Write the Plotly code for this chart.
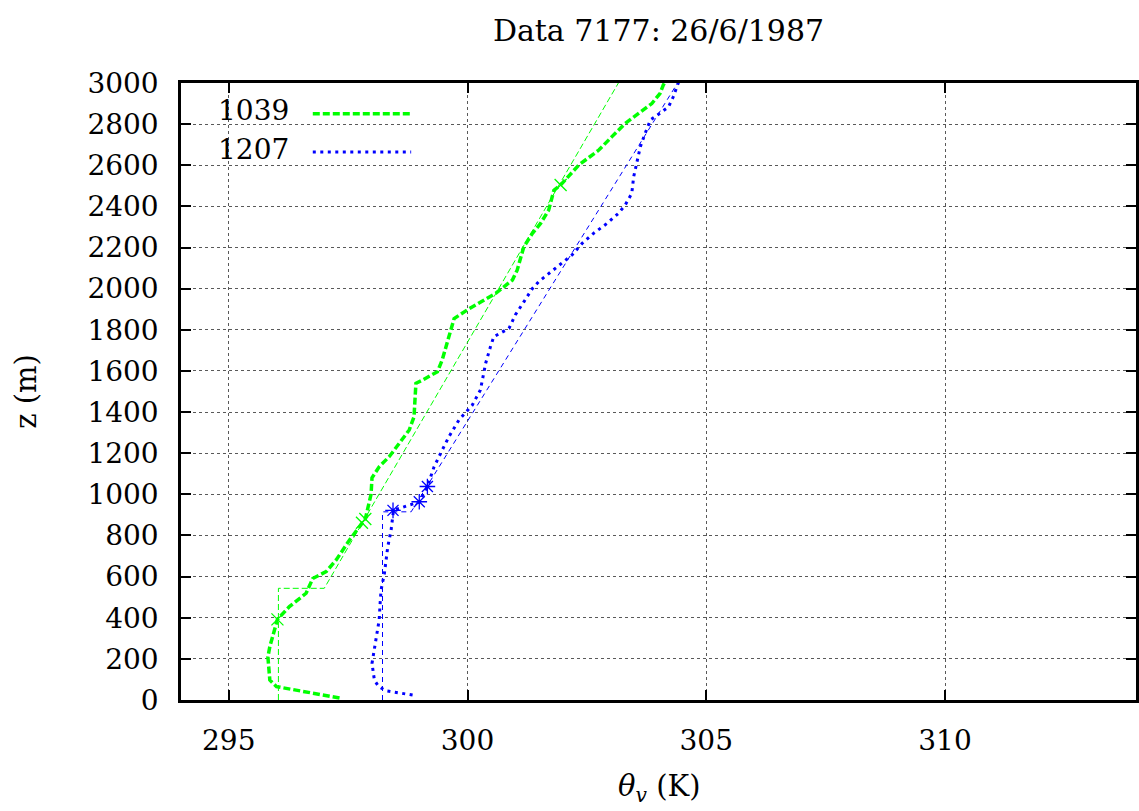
import plotly.graph_objects as go

# ---------------- data ----------------
title_text = "Data 7177: 26/6/1987"
series_names = ["1039", "1207"]

theta_1039 = [297.32, 296.00, 295.86, 295.82, 295.86, 295.96, 296.02, 296.27, 296.62, 296.76,
              297.04, 297.25, 297.53, 297.79, 297.86, 297.92, 297.98, 298.00, 298.15, 298.36,
              298.57, 298.78, 298.88, 298.92, 299.06, 299.37, 299.47, 299.61, 299.72, 299.99,
              300.59, 300.94, 301.04, 301.18, 301.36, 301.53, 301.70, 301.81, 301.95, 302.33,
              302.75, 303.02, 303.30, 303.86, 304.03, 304.10, 304.15]
z_1039 = [10, 65, 97, 210, 259, 340, 392, 454, 519, 591,
          624, 681, 778, 859, 880, 940, 1000, 1080, 1134, 1183,
          1248, 1313, 1377, 1540, 1556, 1596, 1653, 1766, 1855, 1896,
          1977, 2042, 2090, 2204, 2269, 2317, 2382, 2479, 2504, 2601,
          2674, 2738, 2803, 2900, 2949, 2990, 3010]

theta_1207 = [298.85, 298.29, 298.14, 298.05, 298.00, 298.05, 298.10, 298.15, 298.17, 298.19,
              298.26, 298.29, 298.33, 298.40, 298.43, 298.45, 298.78, 298.99, 299.16, 299.30,
              299.47, 299.61, 299.82, 300.10, 300.27, 300.38, 300.48, 300.55, 300.87, 301.00,
              301.18, 301.36, 301.49, 301.84, 302.19, 302.40, 302.64, 302.92, 303.16, 303.30,
              303.44, 303.48, 303.55, 303.62, 303.72, 303.83, 304.07, 304.21, 304.31, 304.40, 304.43]
z_1207 = [24, 45, 65, 97, 178, 243, 324, 389, 470, 535,
          616, 664, 745, 826, 891, 922, 948, 962, 1038, 1134,
          1215, 1280, 1361, 1434, 1507, 1637, 1717, 1766, 1807, 1872,
          1936, 2001, 2034, 2099, 2164, 2220, 2269, 2317, 2366, 2406,
          2463, 2544, 2625, 2690, 2755, 2820, 2860, 2884, 2933, 2990, 3010]

# idealised (fitted) profiles
fit_theta_1039 = [296.04, 296.04, 297.00, 303.16]
fit_z_1039 = [0, 543, 543, 3000]
fit_theta_1207 = [298.22, 298.22, 298.82, 304.40]
fit_z_1207 = [0, 915, 915, 3000]

# marked points
mark_theta_1039 = [296.02, 297.79, 297.86, 301.95]
mark_z_1039 = [392, 862, 880, 2504]
mark_theta_1207 = [298.44, 298.99, 299.16]
mark_z_1207 = [922, 964, 1038]

x_ticks = [295, 300, 305, 310]
y_ticks = list(range(0, 3001, 200))

GREEN = "#00ff00"
BLUE = "#0000ff"
FONT = "DejaVu Serif"

fig = go.Figure()

fig.add_trace(go.Scatter(x=fit_theta_1039, y=fit_z_1039, mode="lines",
                         line=dict(color=GREEN, width=1, dash="6px,3px")))
fig.add_trace(go.Scatter(x=theta_1039, y=z_1039, mode="lines",
                         line=dict(color=GREEN, width=3.5, dash="7px,3px")))
fig.add_trace(go.Scatter(x=mark_theta_1039, y=mark_z_1039, mode="markers",
                         marker=dict(symbol="x-thin-open", size=12, color=GREEN,
                                     line=dict(color=GREEN, width=1.3))))

fig.add_trace(go.Scatter(x=fit_theta_1207, y=fit_z_1207, mode="lines",
                         line=dict(color=BLUE, width=1, dash="5px,4px")))
fig.add_trace(go.Scatter(x=theta_1207, y=z_1207, mode="lines",
                         line=dict(color=BLUE, width=3, dash="3px,4.5px")))
fig.add_trace(go.Scatter(x=mark_theta_1207, y=mark_z_1207, mode="markers",
                         marker=dict(symbol="asterisk-open", size=13, color=BLUE,
                                     line=dict(color=BLUE, width=1.3))))

axis_common = dict(
    ticks="inside", ticklen=10, tickwidth=2, tickcolor="black",
    showline=True, linewidth=2.5, linecolor="black", mirror="ticks",
    showgrid=True, gridcolor="rgba(0,0,0,0.65)", gridwidth=1, griddash="dot",
    zeroline=False,
    tickfont=dict(family=FONT, size=28, color="black"),
)

fig.update_xaxes(range=[294, 314], tickvals=x_ticks, ticklabelstandoff=14, **axis_common)
fig.update_yaxes(range=[0, 3000], tickvals=y_ticks, ticklabelstandoff=14, **axis_common)

# legend (gnuplot style: label then sample)
legend_y = [0.955, 0.893]
legend_colors = [GREEN, BLUE]
legend_dash = ["7px,3px", "3px,4.5px"]
legend_width = [3.5, 3]
for name, ly, c, d, w in zip(series_names, legend_y, legend_colors, legend_dash, legend_width):
    fig.add_annotation(x=0.115, y=ly, xref="paper", yref="paper", text=name,
                       showarrow=False, xanchor="right", yanchor="middle",
                       font=dict(family=FONT, size=28, color="black"))
    fig.add_shape(type="line", xref="paper", yref="paper",
                  x0=0.138, x1=0.241, y0=ly - 0.005, y1=ly - 0.005,
                  line=dict(color=c, width=w, dash=d))

# axis titles
fig.add_annotation(x=0.5, y=-0.142, xref="paper", yref="paper",
                   text="<i>θ</i><sub><i>v</i></sub> (K)", showarrow=False,
                   xanchor="center", yanchor="middle",
                   font=dict(family=FONT, size=29, color="black"))
fig.add_annotation(x=-0.163, y=0.5, xref="paper", yref="paper",
                   text="z (m)", showarrow=False, textangle=-90,
                   xanchor="center", yanchor="middle",
                   font=dict(family=FONT, size=29, color="black"))

fig.update_layout(
    width=1139, height=811,
    margin=dict(l=181, r=0, t=83, b=111),
    plot_bgcolor="white", paper_bgcolor="white",
    showlegend=False,
    title=dict(text=title_text, x=0.5, xref="paper", xanchor="center",
               y=1 - 30 / 811, yref="container", yanchor="middle",
               font=dict(family=FONT, size=30, color="black")),
)

fig.write_html("out.html")
